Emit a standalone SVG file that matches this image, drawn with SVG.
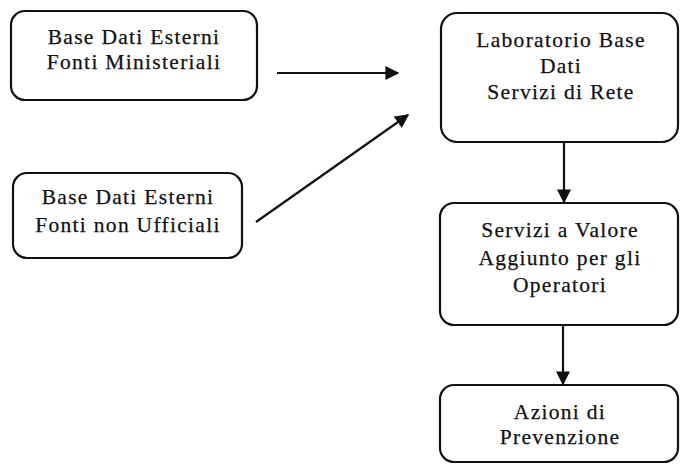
<svg xmlns="http://www.w3.org/2000/svg" width="680" height="468" viewBox="0 0 680 468">
<defs>
<style>
.box{fill:#fff;stroke:#111;stroke-width:2.2}
.t{font-family:"Liberation Serif","Times New Roman",serif;font-size:21.5px;fill:#111;text-anchor:middle;letter-spacing:1.3px;stroke:#111;stroke-width:0.25}
.c{stroke:#111;stroke-width:2.2;fill:none}
</style>
<marker id="ahb" viewBox="0 0 10 10" refX="9" refY="5" markerWidth="14" markerHeight="14" markerUnits="userSpaceOnUse" orient="auto">
<path d="M0,0 L10,5 L0,10 z" fill="#111"/>
</marker>
</defs>
<rect width="680" height="468" fill="#fff"/>
<g id="n1">
<rect class="box" x="11" y="11" width="246" height="89" rx="14"/>
<text class="t" x="134" y="44">Base Dati Esterni</text>
<text class="t" x="134" y="69">Fonti Ministeriali</text>
</g>
<g id="n2">
<rect class="box" x="13" y="173" width="229" height="85" rx="14"/>
<text class="t" x="128" y="204">Base Dati Esterni</text>
<text class="t" x="128" y="232">Fonti non Ufficiali</text>
</g>
<g id="n3">
<rect class="box" x="441" y="13" width="237" height="129" rx="16"/>
<text class="t" x="561" y="47">Laboratorio Base</text>
<text class="t" x="561" y="73">Dati</text>
<text class="t" x="561" y="99">Servizi di Rete</text>
</g>
<g id="n4">
<rect class="box" x="440" y="203" width="238" height="122" rx="14"/>
<text class="t" x="560" y="237">Servizi a Valore</text>
<text class="t" x="560" y="265">Aggiunto per gli</text>
<text class="t" x="560" y="292">Operatori</text>
</g>
<g id="n5">
<rect class="box" x="440" y="385" width="238" height="77" rx="14"/>
<text class="t" x="560" y="419">Azioni di</text>
<text class="t" x="560" y="444">Prevenzione</text>
</g>
<g id="connectors">
<line class="c" x1="277" y1="73" x2="398" y2="73" marker-end="url(#ahb)"/>
<line class="c" x1="256" y1="222" x2="408" y2="115" marker-end="url(#ahb)"/>
<line class="c" x1="564" y1="142" x2="564" y2="202" marker-end="url(#ahb)"/>
<line class="c" x1="563" y1="325" x2="563" y2="384" marker-end="url(#ahb)"/>
</g>
</svg>
